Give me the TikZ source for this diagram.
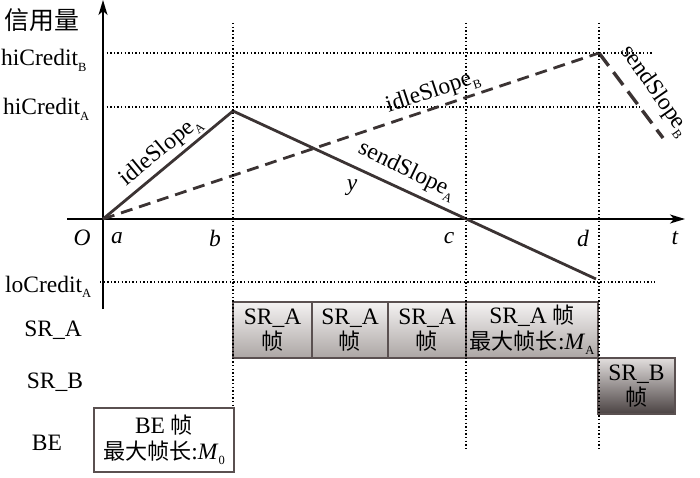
\documentclass[tikz,border=0pt]{standalone}
\usepackage{fontspec}
\setmainfont{Liberation Serif}
\newfontfamily\cjk[Scale=0.94]{Noto Sans CJK SC}
\usetikzlibrary{arrows.meta}
\newcommand{\zh}[1]{{\cjk #1}}
\newcommand{\subx}[1]{\raisebox{-5.5pt}{\fontsize{12.5}{12.5}\selectfont #1}}
\definecolor{lineC}{HTML}{3B3333}
\definecolor{boxC}{HTML}{5A5050}
\definecolor{sraTop}{HTML}{F4F2F2}
\definecolor{sraBot}{HTML}{ACA6A4}
\definecolor{srbTop}{HTML}{E2DEDD}
\definecolor{srbBot}{HTML}{4A4242}
\begin{document}
\begin{tikzpicture}[x=1pt,y=-1pt,
  font=\fontsize{23.5}{25.5}\selectfont,
  axisline/.style={line width=1.5pt, black},
  guide/.style={line width=1.3pt, black, dash pattern=on 1.4pt off 2.2pt},
  curveA/.style={line width=2.8pt, lineC},
  curveB/.style={line width=2.8pt, lineC, dash pattern=on 12pt off 7pt},
  curveBs/.style={line width=3.4pt, lineC, dash pattern=on 16pt off 8pt},
  lbl/.style={inner sep=0pt},
  frameA/.style={draw=boxC, line width=1.2pt, top color=sraTop, bottom color=sraBot, minimum height=56pt, align=center, inner sep=0pt},
  frameB/.style={draw=boxC, line width=1.2pt, top color=srbTop, bottom color=srbBot, minimum height=56pt, align=center, inner sep=0pt},
  frameE/.style={draw=boxC, line width=1.2pt, fill=white, minimum height=64pt, align=center, inner sep=0pt}
]
\useasboundingbox (0,0) rectangle (700,478);

% coordinates
\coordinate (O) at (103,219);
\coordinate (ytop) at (103,0);
\coordinate (ybot) at (103,309);
\coordinate (xl) at (67,219);
\coordinate (xr) at (685,219);
\coordinate (pA) at (233,111);
\coordinate (eA) at (596,279);
\coordinate (pB) at (599,53);
\coordinate (eB) at (663,138);
\coordinate (hBl) at (103,53);  \coordinate (hBr) at (653,53);
\coordinate (hAl) at (103,107); \coordinate (hAr) at (640,107);
\coordinate (lAl) at (100,282); \coordinate (lAr) at (655,282);
\coordinate (vbT) at (233,23);  \coordinate (vbB) at (233,408);
\coordinate (vcT) at (466,23);  \coordinate (vcB) at (466,449);
\coordinate (vdT) at (599,23);  \coordinate (vdB) at (599,449);

% guides
\draw[guide] (hBl) -- (hBr);
\draw[guide] (hAl) -- (hAr);
\draw[guide] (lAl) -- (lAr);

% axes
\draw[axisline, -{Stealth[length=15pt,width=9pt,inset=4pt]}] (ybot) -- (ytop);
\draw[axisline, -{Stealth[length=15pt,width=9pt,inset=4pt]}] (xl) -- (xr);

% curves
\draw[curveB] (O) -- (pB);
\draw[curveBs] (pB) -- (eB);
\draw[curveA] (O) -- (pA) -- (eA);

% boxes
\node[frameA, minimum width=79pt] (fa1) at (272.5,330) {SR\_A\\\zh{帧}};
\node[frameA, minimum width=76pt] (fa2) at (350,330) {SR\_A\\\zh{帧}};
\node[frameA, minimum width=78pt] (fa3) at (427,330) {SR\_A\\\zh{帧}};
\node[frameA, minimum width=132pt] (fa4) at (532,330) {SR\_A \zh{帧}\\\zh{最大帧长}:\textit{M}\subx{A}};
\node[frameB, minimum width=77pt] (fb1) at (636.5,386) {SR\_B\\\zh{帧}};
\node[frameE, minimum width=140pt] (fe1) at (164,440) {BE \zh{帧}\\\zh{最大帧长}:\textit{M}\subx{0}};
\draw[guide] (vbT) -- (vbB);
\draw[guide] (vcT) -- (vcB);
\draw[guide] (vdT) -- (vdB);

% axis labels
\node[lbl] (yl) at (42,20) {\fontsize{26.5}{28}\selectfont\zh{信用量}};
\node[lbl, anchor=base west] (lhB) at (1,66) {hiCredit\subx{B}};
\node[lbl, anchor=base west] (lhA) at (3,115) {hiCredit\subx{A}};
\node[lbl, anchor=base west] (llA) at (5,292) {loCredit\subx{A}};
\node[lbl] (tO) at (82,238) {\textit{O}};
\node[lbl] (ta) at (117,238) {\textit{a}};
\node[lbl] (tb) at (215,238) {\textit{b}};
\node[lbl] (tc) at (449,238) {\textit{c}};
\node[lbl] (td) at (583,238) {\textit{d}};
\node[lbl] (tt) at (675,238) {\textit{t}};
\node[lbl] (ty) at (352,188) {\textit{y}};

% slope labels
\node[lbl, rotate=39.5] (isA) at (161,151) {idleSlope\subx{A}};
\node[lbl, rotate=-26] (ssA) at (407,171) {sendSlope\subx{A}};
\node[lbl, rotate=18.4] (isB) at (433,92) {idleSlope\subx{B}};
\node[lbl, rotate=-55] (ssB) at (655,91) {sendSlope\subx{B}};

% row labels
\node[lbl] (rA) at (53,330) {SR\_A};
\node[lbl] (rB) at (55,382) {SR\_B};
\node[lbl] (rE) at (47,443) {BE};
\end{tikzpicture}
\end{document}
